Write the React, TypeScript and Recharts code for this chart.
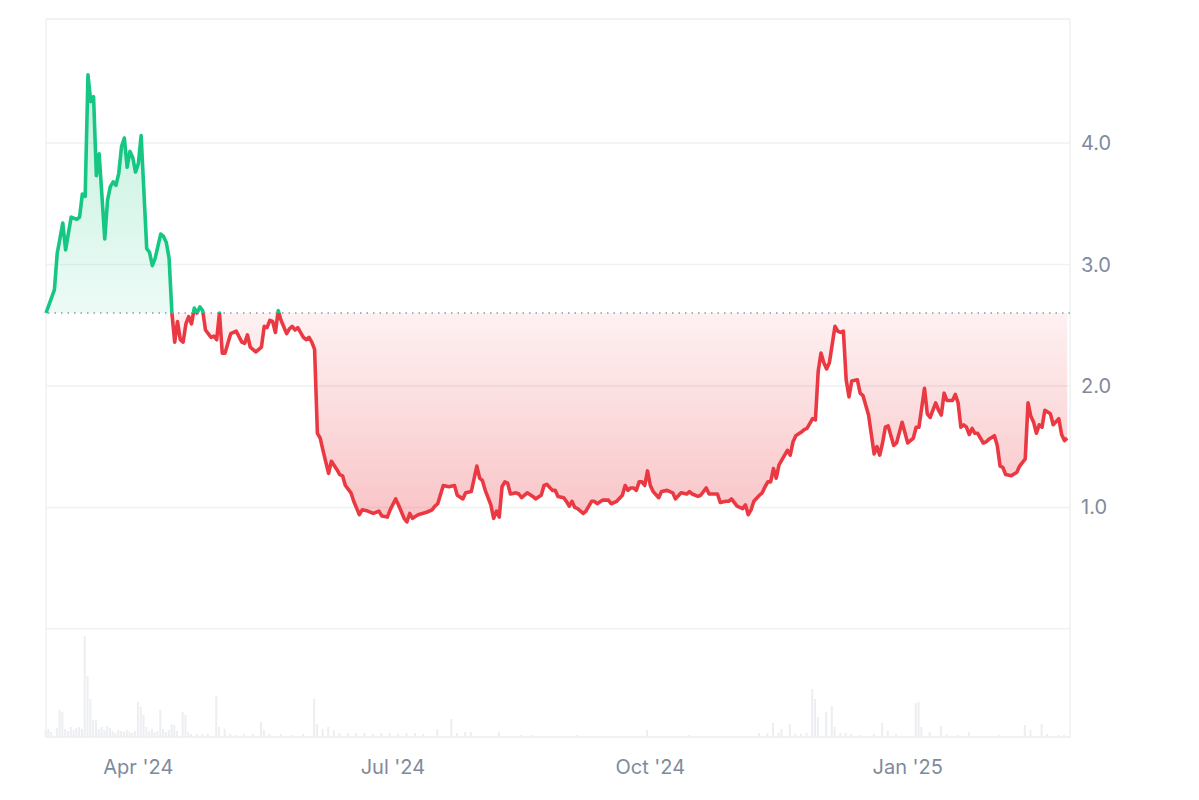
import {
  Area,
  Bar,
  CartesianGrid,
  ComposedChart,
  ReferenceArea,
  ReferenceLine,
  XAxis,
  YAxis,
} from "recharts";

// day 0 = 28 Feb 2024
const priceDays = [
  0, 3, 4, 6, 7, 9, 11, 12, 13, 14, 15, 16, 17, 18, 19, 21, 22, 23, 24, 25,
  26, 27, 28, 29, 30, 31, 32, 33, 34, 36, 37, 38, 39, 41, 42, 43, 44, 45, 46, 47,
  48, 49, 50, 51, 52, 53, 54, 55, 56, 57, 59, 60, 61, 62, 63, 64, 66, 68, 70, 71,
  72, 73, 75, 77, 78, 79, 80, 81, 82, 83, 84, 86, 87, 88, 89, 90, 92, 93, 94, 95,
  96, 97, 98, 99, 101, 102, 104, 105, 106, 107, 108, 109, 110, 112, 113, 115, 117, 119, 120, 122,
  123, 125, 126, 128, 129, 130, 131, 133, 136, 138, 139, 140, 142, 144, 146, 147, 149, 150, 152, 154,
  155, 156, 157, 159, 160, 161, 162, 163, 164, 165, 166, 168, 169, 170, 172, 174, 175, 177, 178, 179,
  181, 182, 183, 185, 186, 187, 188, 189, 190, 192, 193, 195, 196, 197, 199, 201, 202, 204, 206, 207,
  208, 209, 210, 211, 212, 213, 214, 215, 216, 217, 219, 220, 222, 224, 225, 227, 229, 230, 231, 233,
  234, 236, 237, 240, 241, 243, 244, 245, 247, 249, 250, 251, 252, 253, 255, 256, 257, 258, 259, 260,
  261, 262, 264, 265, 266, 267, 268, 270, 271, 272, 274, 275, 276, 277, 278, 279, 280, 282, 283, 284,
  285, 286, 287, 288, 290, 291, 292, 294, 296, 297, 298, 299, 300, 301, 303, 304, 306, 308, 310, 311,
  312, 314, 315, 316, 318, 319, 320, 321, 322, 324, 325, 326, 327, 328, 329, 330, 331, 332, 333, 335,
  336, 337, 339, 340, 341, 342, 343, 345, 347, 348, 350, 351, 352, 353, 354, 355, 356, 357, 359, 360,
  362, 363, 364, 365,
];

const prices = [
  2.6, 2.79, 3.09, 3.34, 3.12, 3.39, 3.37, 3.39, 3.58, 3.56, 4.56, 4.34, 4.38, 3.73, 3.91, 3.21, 3.53, 3.64, 3.68, 3.65,
  3.75, 3.97, 4.04, 3.8, 3.93, 3.88, 3.76, 3.83, 4.06, 3.13, 3.1, 2.99, 3.05, 3.25, 3.23, 3.18, 3.05, 2.6, 2.36, 2.53,
  2.38, 2.36, 2.51, 2.57, 2.51, 2.64, 2.6, 2.65, 2.62, 2.46, 2.4, 2.41, 2.38, 2.6, 2.27, 2.27, 2.43, 2.45, 2.36, 2.35,
  2.42, 2.32, 2.28, 2.32, 2.49, 2.48, 2.54, 2.53, 2.44, 2.62, 2.54, 2.43, 2.47, 2.49, 2.46, 2.48, 2.4, 2.38, 2.4, 2.36,
  2.3, 1.61, 1.57, 1.47, 1.28, 1.38, 1.31, 1.27, 1.26, 1.18, 1.15, 1.12, 1.05, 0.94, 0.98, 0.97, 0.95, 0.97, 0.93, 0.92,
  0.98, 1.07, 1.02, 0.91, 0.88, 0.95, 0.91, 0.94, 0.96, 0.98, 1.01, 1.03, 1.18, 1.17, 1.18, 1.1, 1.07, 1.12, 1.13, 1.34,
  1.24, 1.22, 1.14, 1.02, 0.91, 0.97, 0.92, 1.17, 1.21, 1.2, 1.11, 1.12, 1.11, 1.08, 1.12, 1.09, 1.07, 1.1, 1.18, 1.19,
  1.14, 1.14, 1.09, 1.08, 1.05, 1.01, 1.05, 1.0, 0.99, 0.95, 0.97, 1.05, 1.05, 1.03, 1.06, 1.06, 1.03, 1.05, 1.1, 1.18,
  1.14, 1.16, 1.16, 1.14, 1.21, 1.21, 1.18, 1.3, 1.18, 1.13, 1.08, 1.13, 1.14, 1.12, 1.07, 1.12, 1.11, 1.13, 1.11, 1.09,
  1.1, 1.16, 1.11, 1.11, 1.04, 1.05, 1.05, 1.07, 1.01, 0.99, 1.02, 0.94, 0.98, 1.05, 1.1, 1.12, 1.17, 1.21, 1.21, 1.32,
  1.24, 1.35, 1.43, 1.47, 1.43, 1.54, 1.59, 1.62, 1.64, 1.65, 1.73, 1.72, 2.12, 2.27, 2.19, 2.14, 2.19, 2.49, 2.45, 2.44,
  2.45, 2.05, 1.91, 2.04, 2.05, 1.94, 1.92, 1.76, 1.44, 1.5, 1.43, 1.53, 1.66, 1.67, 1.51, 1.53, 1.7, 1.53, 1.57, 1.66,
  1.66, 1.98, 1.77, 1.74, 1.86, 1.8, 1.76, 1.94, 1.88, 1.88, 1.93, 1.86, 1.66, 1.68, 1.66, 1.6, 1.65, 1.61, 1.61, 1.53,
  1.54, 1.56, 1.59, 1.51, 1.34, 1.33, 1.27, 1.26, 1.29, 1.34, 1.4, 1.86, 1.75, 1.7, 1.61, 1.68, 1.66, 1.8, 1.77, 1.68,
  1.73, 1.6, 1.55, 1.57,
];

const volumeDays = [
  0, 1, 2, 4, 5, 6, 7, 8, 9, 10, 11, 12, 13, 14, 15, 16, 17, 18, 19, 20,
  21, 22, 23, 24, 25, 26, 27, 28, 29, 30, 31, 32, 33, 34, 35, 36, 37, 38, 39, 40,
  41, 42, 43, 44, 45, 46, 47, 49, 50, 51, 52, 54, 56, 58, 61, 62, 64, 66, 68, 71,
  74, 77, 78, 80, 84, 88, 92, 96, 97, 99, 101, 103, 105, 108, 111, 114, 117, 120, 123, 126,
  129, 132, 135, 140, 145, 147, 150, 152, 162, 170, 174, 190, 215, 230, 255, 258, 260, 262, 263, 266,
  268, 270, 272, 274, 275, 276, 279, 281, 282, 284, 286, 288, 291, 296, 299, 301, 304, 311, 312, 313,
  316, 320, 322, 326, 330, 341, 350, 352, 356, 358, 362, 364,
];

const volumes = [
  6, 8, 5, 9, 27, 25, 8, 6, 10, 7, 9, 10, 8, 101, 61, 38, 17, 17, 8, 10,
  7, 11, 9, 6, 4, 7, 6, 5, 7, 5, 4, 6, 35, 30, 22, 10, 6, 8, 5, 6,
  27, 8, 5, 7, 13, 12, 6, 25, 22, 5, 3, 3, 3, 3, 41, 10, 8, 3, 2, 3,
  3, 15, 7, 3, 3, 2, 3, 38, 13, 8, 10, 7, 4, 4, 4, 4, 3, 4, 4, 3,
  4, 4, 3, 8, 18, 4, 5, 5, 5, 2, 2, 2, 7, 2, 4, 4, 14, 4, 8, 13,
  3, 3, 4, 48, 38, 20, 25, 31, 10, 4, 4, 3, 2, 3, 14, 6, 3, 34, 35, 10,
  5, 11, 3, 2, 5, 2, 12, 7, 13, 3, 2, 2,
];

const tickDays = [33, 124, 216, 308];
const tickLabels = ["Apr '24", "Jul '24", "Oct '24", "Jan '25"];
const priceTicks = [0, 1, 2, 3, 4];

const openPrice = 2.6;
const daySpan = 366;
const priceDomain: [number, number] = [-0.89, 5.02];
const volumeDomain: [number, number] = [0, 718];

const GREEN = "#16c784";
const RED = "#ea3943";
const GRID = "#eff1f4";
const TEXT = "#808a9d";

const priceByDay = new Map(priceDays.map((d, i) => [d, prices[i]]));
const volumeByDay = new Map(volumeDays.map((d, i) => [d, volumes[i]]));

const rows = Array.from({ length: daySpan + 1 }, (_, day) => ({
  day,
  price: priceByDay.get(day) ?? null,
  volume: volumeByDay.get(day) ?? null,
}));

const hi = Math.max(...prices);
const lo = Math.min(...prices);
const split = (hi - openPrice) / (hi - lo);

function dayLabel(day: number): string {
  const i = tickDays.indexOf(day);
  return i >= 0 ? tickLabels[i] : "";
}

export default function App() {
  return (
    <div
      style={{
        position: "absolute",
        left: 0,
        top: 0,
        fontFamily: "Inter, 'Noto Sans', sans-serif",
        background: "#fff",
      }}
    >
      <ComposedChart
        width={1199}
        height={800}
        data={rows}
        margin={{ top: 19, right: 0, bottom: 0, left: 46 }}
      >
        <defs>
          <linearGradient id="priceStroke" x1="0" y1="0" x2="0" y2="1">
            <stop offset={0} stopColor={GREEN} />
            <stop offset={split} stopColor={GREEN} />
            <stop offset={split} stopColor={RED} />
            <stop offset={1} stopColor={RED} />
          </linearGradient>
          <linearGradient id="priceFill" x1="0" y1="0" x2="0" y2="1">
            <stop offset={0} stopColor={GREEN} stopOpacity={0.26} />
            <stop offset={split} stopColor={GREEN} stopOpacity={0.08} />
            <stop offset={split} stopColor={RED} stopOpacity={0.07} />
            <stop offset={1} stopColor={RED} stopOpacity={0.3} />
          </linearGradient>
        </defs>
        <CartesianGrid vertical={false} stroke={GRID} strokeWidth={1.5} />
        <ReferenceArea
          x1={0}
          x2={daySpan}
          y1={priceDomain[0]}
          y2={priceDomain[1]}
          fill="none"
          stroke={GRID}
          strokeWidth={1.5}
        />
        <XAxis
          dataKey="day"
          type="number"
          domain={[0, daySpan]}
          ticks={tickDays}
          tickFormatter={dayLabel}
          height={63}
          tickLine={false}
          axisLine={false}
          tickMargin={17}
          tick={{ fill: TEXT, fontSize: 20 }}
        />
        <YAxis
          orientation="right"
          type="number"
          domain={priceDomain}
          ticks={priceTicks}
          tickFormatter={(v: number) => (v === 0 ? "" : v.toFixed(1))}
          width={129}
          tickLine={false}
          axisLine={false}
          tickMargin={5}
          tick={{ fill: TEXT, fontSize: 20 }}
        />
        <YAxis yAxisId="vol" hide domain={volumeDomain} />
        <Bar
          yAxisId="vol"
          dataKey="volume"
          fill="#eceef1"
          barSize={2}
          isAnimationActive={false}
        />
        <Area
          type="linear"
          dataKey="price"
          baseValue={openPrice}
          connectNulls
          stroke="url(#priceStroke)"
          strokeWidth={3.6}
          strokeLinejoin="round"
          fill="url(#priceFill)"
          fillOpacity={1}
          dot={false}
          activeDot={false}
          isAnimationActive={false}
        />
        <ReferenceLine
          y={openPrice}
          stroke="#8e96a8"
          strokeWidth={1.5}
          strokeDasharray="1.5 5"
        />
      </ComposedChart>
    </div>
  );
}
